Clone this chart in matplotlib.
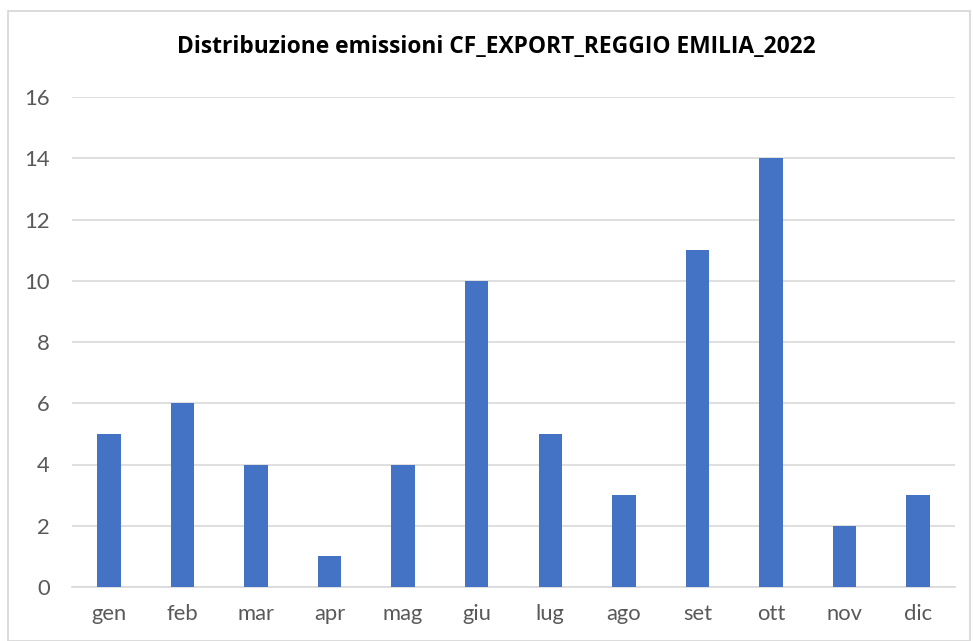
import matplotlib.pyplot as plt
from matplotlib.patches import Rectangle

# monthly values
mesi = ["gen", "feb", "mar", "apr", "mag", "giu", "lug", "ago", "set", "ott", "nov", "dic"]
emissioni = [5, 6, 4, 1, 4, 10, 5, 3, 11, 14, 2, 3]
y_ticks = [0, 2, 4, 6, 8, 10, 12, 14, 16]

plt.rcParams['font.family'] = ['Lato', 'DejaVu Sans']

W, H = 973, 641
fig = plt.figure(figsize=(W / 100, H / 100), dpi=100)

# light frame around the chart area, like an Excel chart
fig.patches.append(Rectangle((8 / W, 0), (970 - 8) / W, 1 - 11 / H,
                             transform=fig.transFigure, fill=False,
                             edgecolor="#d9d9d9", linewidth=1.3))

ax = fig.add_axes([72 / W, 1 - 587 / H, (955 - 72) / W, (587 - 97) / H])
ax.bar(range(len(mesi)), emissioni, width=0.32, color="#4472C4", zorder=3)

ax.set_xlim(-0.5, len(mesi) - 0.5)
ax.set_ylim(0, 16)
ax.set_yticks(y_ticks)
ax.set_xticks(range(len(mesi)))
ax.set_xticklabels(mesi)

ax.grid(axis="y", color="#d9d9d9", linewidth=1.2, zorder=0)
for s in ["top", "right", "left"]:
    ax.spines[s].set_visible(False)
ax.spines["bottom"].set_color("#d9d9d9")
ax.spines["bottom"].set_linewidth(1.2)
ax.tick_params(axis="both", length=0, labelsize=15.8, labelcolor="#595959")
ax.tick_params(axis="y", pad=16)
ax.tick_params(axis="x", pad=12)

fig.text(496 / W, 1 - 47 / H, "Distribuzione emissioni CF_EXPORT_REGGIO EMILIA_2022",
         ha="center", va="center", fontsize=16.4, fontweight="bold", color="black",
         family=["Open Sans", "DejaVu Sans"])

fig.savefig("out.png", dpi=100)
